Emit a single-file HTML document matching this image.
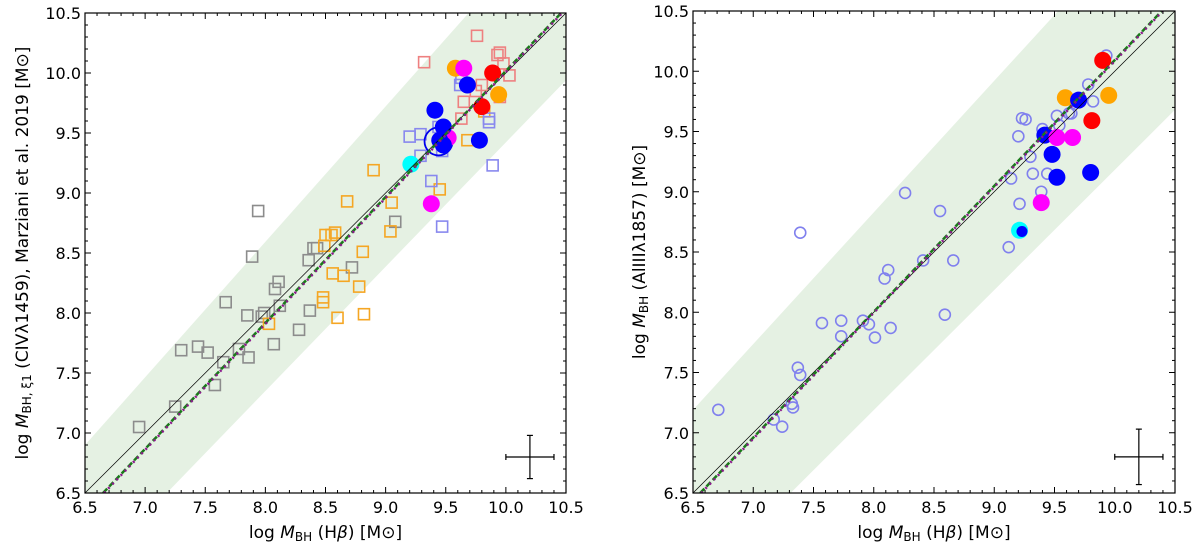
<!DOCTYPE html>
<html><head><meta charset="utf-8">
<style>
html,body{margin:0;padding:0;background:#fff;}
svg{display:block;font-family:"DejaVu Sans","Liberation Sans",sans-serif;}
</style></head>
<body>
<svg id="chart" width="1200" height="552" viewBox="0 0 1200 552" xmlns="http://www.w3.org/2000/svg"></svg>
<script>
// ---- Left panel data (x = log MBH Hbeta, y = log MBH CIV)
const leftGreyX=[6.95,7.25,7.30,7.44,7.52,7.58,7.65,7.67,7.78,7.85,7.86,7.89,7.94,7.97,7.99,8.07,8.08,8.11,8.12,8.28,8.36,8.37,8.40,8.43,8.72,9.08];
const leftGreyY=[7.05,7.22,7.69,7.72,7.67,7.40,7.59,8.09,7.70,7.98,7.63,8.47,8.85,7.97,8.00,7.74,8.20,8.26,8.06,7.86,8.44,8.02,8.54,8.54,8.38,8.76];
const leftOrangeSqX=[8.03,8.48,8.48,8.49,8.50,8.55,8.58,8.56,8.65,8.60,8.68,8.78,8.81,8.82,8.90,9.04,9.05,9.45,9.68,9.82];
const leftOrangeSqY=[7.91,8.13,8.09,8.56,8.65,8.65,8.67,8.33,8.31,7.96,8.93,8.22,8.51,7.99,9.19,8.68,8.92,9.03,9.44,9.68];
const leftBlueSqX=[9.20,9.29,9.29,9.38,9.47,9.44,9.47,9.63,9.62,9.86,9.86,9.89];
const leftBlueSqY=[9.47,9.49,9.31,9.10,8.72,9.55,9.35,9.96,9.90,9.59,9.62,9.23];
const leftRedSqX=[9.32,9.76,9.93,9.95,9.98,10.03,9.95,9.63,9.65,9.80,9.75];
const leftRedSqY=[10.09,10.31,10.15,10.17,10.08,9.98,9.80,9.62,9.76,9.90,9.85];
const leftFilledX=[9.58,9.94,9.65,9.52,9.38,9.89,9.80,9.68,9.41,9.48,9.48,9.45,9.78,9.21];
const leftFilledY=[10.04,9.82,10.04,9.46,8.91,10.00,9.72,9.90,9.69,9.55,9.40,9.44,9.44,9.24];
const leftFilledC=["#ffa500","#ffa500","#ff00ff","#ff00ff","#ff00ff","#ff0000","#ff0000","#0000ff","#0000ff","#0000ff","#0000ff","#0000ff","#0000ff","#00ffff"];
// ---- Right panel data (y = log MBH AlIII)
const rightOpenX=[6.71,7.17,7.24,7.32,7.33,7.37,7.39,7.39,7.57,7.73,7.73,7.91,7.96,8.01,8.09,8.12,8.14,8.26,8.41,8.55,8.59,8.66,9.12,9.14,9.20,9.21,9.23,9.26,9.30,9.32,9.39,9.40,9.44,9.52,9.54,9.62,9.64,9.78,9.82,9.93,9.90];
const rightOpenY=[7.19,7.11,7.05,7.24,7.21,7.54,7.48,8.66,7.91,7.93,7.80,7.93,7.90,7.79,8.28,8.35,7.87,8.99,8.43,8.84,7.98,8.43,8.54,9.11,9.46,8.90,9.61,9.60,9.29,9.15,9.00,9.52,9.15,9.63,9.55,9.65,9.65,9.89,9.75,10.13,10.10];
const rightFilledX=[9.90,9.81,9.59,9.95,9.70,9.42,9.48,9.52,9.80,9.52,9.65,9.39,9.21,9.23];
const rightFilledY=[10.09,9.59,9.78,9.80,9.76,9.47,9.31,9.12,9.16,9.45,9.45,8.91,8.68,8.67];
const rightFilledC=["#ff0000","#ff0000","#ffa500","#ffa500","#0000ff","#0000ff","#0000ff","#0000ff","#0000ff","#ff00ff","#ff00ff","#ff00ff","#00ffff","#0000ff"];
const tickLabels=["6.5","7.0","7.5","8.0","8.5","9.0","9.5","10.0","10.5"];
const tickValues=[6.5,7.0,7.5,8.0,8.5,9.0,9.5,10.0,10.5];

const NS="http://www.w3.org/2000/svg";
const svg=document.getElementById('chart');
function mk(tag,attrs,parent){const e=document.createElementNS(NS,tag);for(const k in attrs)e.setAttribute(k,attrs[k]);(parent||svg).appendChild(e);return e;}

function panel(name,L,R,T,B,opts){
  const g=mk('g',{});
  
  
  const sx=v=>L+(v-6.5)/4*(R-L);
  const sy=v=>B-(v-6.5)/4*(B-T);
  const clipId=name+'-clip';
  const cp=mk('clipPath',{id:clipId},g);mk('rect',{x:L,y:T,width:R-L,height:B-T},cp);
  const pg=mk('g',{'clip-path':'url(#'+clipId+')'},g);
  const b=opts.band;
  const band=mk('polygon',{points:[[6.5,b[0]],[b[1],10.5],[10.5,10.5],[10.5,b[3]],[b[2],6.5],[6.5,6.5]].map(p=>sx(p[0])+','+sy(p[1])).join(' '),fill:'#e5f1e3'},pg);
  
  
  opts.draw(pg,sx,sy);
  const one=mk('line',{x1:sx(6.5),y1:sy(6.5),x2:sx(10.5),y2:sy(10.5),stroke:'#000','stroke-width':0.7},pg);
  
  
  const f=opts.fit;
  const fit1=mk('line',{x1:sx(f[0]),y1:sy(6.5),x2:sx(f[1]),y2:sy(10.5),stroke:'#1a7a1a','stroke-width':2.5,'stroke-dasharray':'6,3'},pg);
  
  
  const fit2=mk('line',{x1:sx(f[0])+1,y1:sy(6.5),x2:sx(f[1])+1,y2:sy(10.5),stroke:'#8b1a8b','stroke-width':2.5,'stroke-dasharray':'2,4'},pg);
  
  
  const e=opts.err;
  const eb=mk('g',{stroke:'#000','stroke-width':1.2},g);
  
  
  mk('line',{x1:sx(10.0),y1:sy(6.8),x2:sx(10.4),y2:sy(6.8)},eb);
  mk('line',{x1:sx(10.2),y1:sy(6.8-e),x2:sx(10.2),y2:sy(6.8+e)},eb);
  [[sx(10.0),sy(6.8),0],[sx(10.4),sy(6.8),0],[sx(10.2),sy(6.8-e),1],[sx(10.2),sy(6.8+e),1]].forEach(c=>{
    if(c[2])mk('line',{x1:c[0]-3,y1:c[1],x2:c[0]+3,y2:c[1]},eb);else mk('line',{x1:c[0],y1:c[1]-3,x2:c[0],y2:c[1]+3},eb);
  });
  const fr=mk('rect',{x:L,y:T,width:R-L,height:B-T,fill:'none',stroke:'#000','stroke-width':1.2},g);
  
  
  const tk=mk('g',{stroke:'#000','stroke-width':1},g);
  for(let i=0;i<=40;i++){
    const v=6.5+i*0.1;const major=(i%5===0);const len=major?6:3;
    const x=sx(v),y=sy(v);
    mk('line',{x1:x,y1:B,x2:x,y2:B-len},tk);mk('line',{x1:x,y1:T,x2:x,y2:T+len},tk);
    mk('line',{x1:L,y1:y,x2:L+len,y2:y},tk);mk('line',{x1:R,y1:y,x2:R-len,y2:y},tk);
  }
  tickValues.forEach((v,i)=>{
    const tx=mk('text',{x:sx(v),y:B+20,'text-anchor':'middle','font-size':16,fill:'#000'},g);
    tx.textContent=tickLabels[i];
    
    
    const ty=mk('text',{x:L-4,y:sy(v)+6,'text-anchor':'end','font-size':16,fill:'#000'},g);
    ty.textContent=tickLabels[i];
    
    
  });
  const xt=mk('text',{x:(L+R)/2,y:B+45,'text-anchor':'middle','font-size':17,fill:'#000'},g);
  xt.innerHTML='log <tspan font-style="italic">M</tspan><tspan font-size="12" dy="3">BH</tspan><tspan dy="-3"> (H</tspan><tspan font-style="italic">β</tspan>) [M⊙]';
  
  
  const yt=mk('text',{x:0,y:0,'text-anchor':'middle','font-size':17,fill:'#000',transform:'translate('+opts.ylx+','+(T+B)/2+') rotate(-90)'},g);
  yt.innerHTML=opts.ylabel;
  
  
}

panel('left-panel',85,566,13,493,{
  band:[6.9,9.69,7.18,9.94], fit:[6.65,10.46], err:0.18, ylx:28,
  ylabel:'log <tspan font-style="italic">M</tspan><tspan font-size="12" dy="3">BH, ξ1</tspan><tspan dy="-3"> (CIVλ1459), Marziani et al. 2019 [M⊙]</tspan>',
  draw:(g,sx,sy)=>{
    const sq=(xs,ys,col,nm)=>xs.forEach((x,i)=>{
      const r=mk('rect',{x:sx(x)-5.5,y:sy(ys[i])-5.5,width:11,height:11,fill:'none',stroke:col,'stroke-width':1.6},g);
      
      
    });
    sq(leftGreyX,leftGreyY,'#8c8c8c','grey-square-point');
    sq(leftOrangeSqX,leftOrangeSqY,'#f5a623','orange-square-point');
    sq(leftBlueSqX,leftBlueSqY,'#8888ee','blue-square-point');
    sq(leftRedSqX,leftRedSqY,'#ee8080','red-square-point');
    const big=mk('circle',{cx:sx(9.44),cy:sy(9.43),r:14,fill:'none',stroke:'#0000ee','stroke-width':1.8},g);
    
    
    leftFilledX.forEach((x,i)=>{
      const c=mk('circle',{cx:sx(x),cy:sy(leftFilledY[i]),r:8.5,fill:leftFilledC[i]},g);
      
      
    });
  }
});
panel('right-panel',693,1175,11,493,{
  band:[7.19,9.53,7.31,9.68], fit:[6.56,10.39], err:0.23, ylx:645,
  ylabel:'log <tspan font-style="italic">M</tspan><tspan font-size="12" dy="3">BH</tspan><tspan dy="-3"> (AlIIIλ1857) [M⊙]</tspan>',
  draw:(g,sx,sy)=>{
    rightOpenX.forEach((x,i)=>{
      const c=mk('circle',{cx:sx(x),cy:sy(rightOpenY[i]),r:5.5,fill:'none',stroke:'#8080ee','stroke-width':1.6},g);
      
      
    });
    rightFilledX.forEach((x,i)=>{
      const c=mk('circle',{cx:sx(x),cy:sy(rightFilledY[i]),r:(i===13?5.5:8.5),fill:rightFilledC[i]},g);
      
      
    });
  }
});
</script>
</body></html>
